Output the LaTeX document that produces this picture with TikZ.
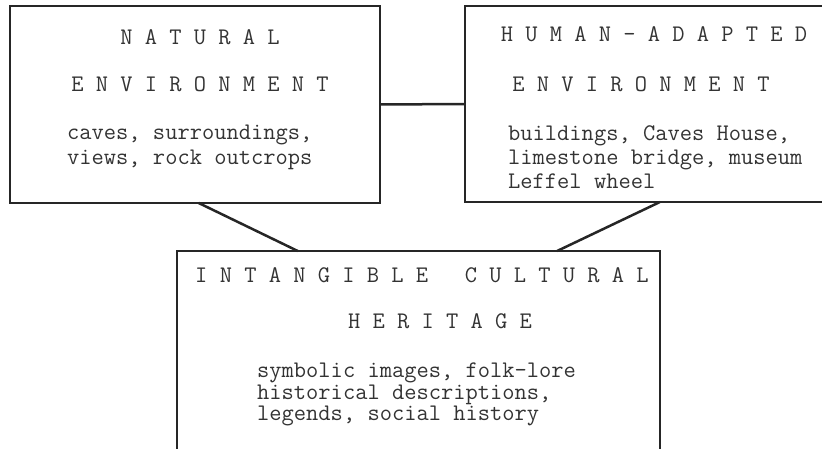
\documentclass[tikz,border=0pt]{standalone}
\usepackage{fontspec}
\usetikzlibrary{calc}

\begin{document}
\begin{tikzpicture}[x=1pt,y=-1pt,
        box/.style={draw=black!85,line width=1.5pt,inner sep=0pt,outer sep=0pt,anchor=north west},
        title/.style={anchor=base,inner sep=0pt,text=black!80,font=\ttfamily\fontsize{23.8}{24}\selectfont},
        items/.style={anchor=north west,inner sep=0pt,align=left,text=black!80,font=\ttfamily\fontsize{23.8}{25}\selectfont},
        link/.style={draw=black!85,line width=2.5pt}]
        \useasboundingbox (0,0) rectangle (822,449);

        % the three boxes
        \node[box,minimum width=370pt,minimum height=197pt] (natural) at (10,6) {};
        \node[box,minimum width=361pt,minimum height=196pt] (human) at (465,6) {};
        \node[box,minimum width=483pt,minimum height=199pt] (heritage) at (177,251) {};

        % links
        \draw[link] (natural.east) -- (human.west);
        \draw[link] ($(natural.south west)!0.51!(natural.south east)$) -- ($(heritage.north west)!0.25!(heritage.north east)$);
        \draw[link] ($(human.south west)!0.54!(human.south east)$) -- ($(heritage.north west)!0.787!(heritage.north east)$);

        % texts
        \node[title] (natA) at (200,45) {N A T U R A L};
        \node[title] (natB) at (200,92) {E N V I R O N M E N T};
        \node[items] (natC) at (67,125) {caves, surroundings,\\views, rock outcrops};

        \node[title] (humA) at (654,42) {H U M A N - A D A P T E D};
        \node[title] (humB) at (641,92) {E N V I R O N M E N T};
        \node[items,font=\ttfamily\fontsize{23.8}{24}\selectfont] (humC) at (508,125) {buildings, Caves House,\\limestone bridge, museum\\Leffel wheel};

        \node[title] (herA) at (422,283) {I N T A N G I B L E\ \ \ C U L T U R A L};
        \node[title] (herB) at (440,328) {H E R I T A G E};
        \node[items,font=\ttfamily\fontsize{23.8}{21.5}\selectfont] (herC) at (257,363) {symbolic images, folk-lore\\historical descriptions,\\legends, social history};
\end{tikzpicture}
\end{document}
